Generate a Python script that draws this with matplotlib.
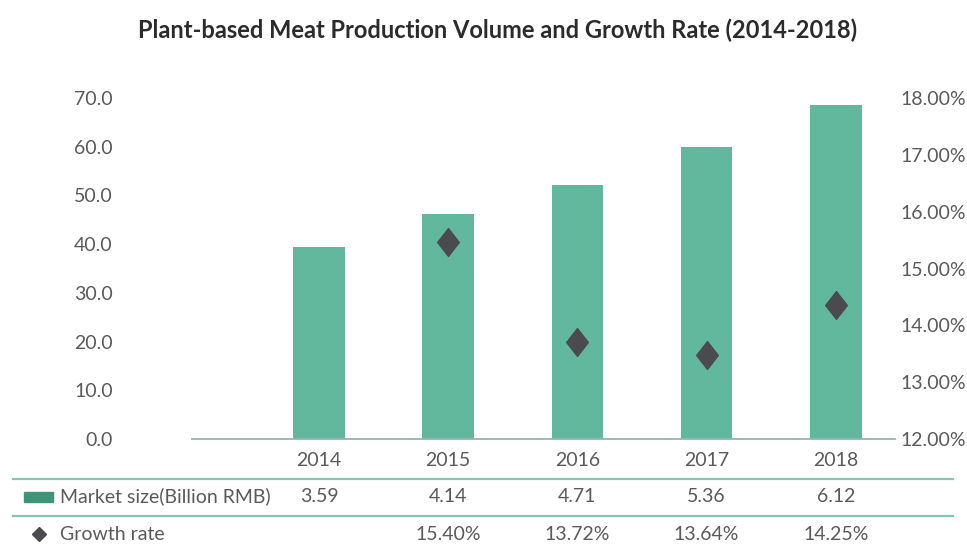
import numpy as np
import matplotlib.pyplot as plt
from matplotlib.lines import Line2D
from matplotlib.patches import Rectangle
from matplotlib.path import Path
import matplotlib.transforms as mtransforms

years = ['2014', '2015', '2016', '2017', '2018']
bar_values = [39.5, 46.2, 52.1, 59.9, 68.6]
growth_plot = [15.47, 13.71, 13.48, 14.36]  # diamond positions (%)
growth_years = ['2015', '2016', '2017', '2018']
market_size = ['3.59', '4.14', '4.71', '5.36', '6.12']
growth_text = ['', '15.40%', '13.72%', '13.64%', '14.25%']

BAR_COLOR = '#62b89c'
DIAMOND_COLOR = '#4b4a4e'
TEXT_COLOR = '#5a5a5a'
LINE_COLOR = '#86c4b1'

plt.rcParams['font.family'] = ['Lato', 'DejaVu Sans']

fig = plt.figure(figsize=(9.67, 5.47), dpi=100)
ax = fig.add_axes((0.1986, 0.1974, 0.9255 - 0.1986, 0.8208 - 0.1974))
ax2 = ax.twinx()

x = np.arange(len(years))
ax.bar(x, bar_values, width=0.40, color=BAR_COLOR, zorder=1)

diamond = Path([(0, 1), (0.78, 0), (0, -1), (-0.78, 0), (0, 1)],
               [Path.MOVETO, Path.LINETO, Path.LINETO, Path.LINETO, Path.CLOSEPOLY])
gx = [years.index(y) for y in growth_years]
ax2.plot(gx, growth_plot, linestyle='none', marker=diamond, markersize=20,
         color=DIAMOND_COLOR, zorder=3)

ax.set_xlim(-0.983, 4.458)
ax.set_ylim(0, 70)
ax.set_yticks(np.arange(0, 71, 10))
ax.set_yticklabels(['%.1f' % v for v in np.arange(0, 71, 10)])
ax2.set_ylim(12, 18)
ax2.set_yticks(np.arange(12, 19, 1))
ax2.set_yticklabels(['%.2f%%' % v for v in np.arange(12, 19, 1)])

ax.set_xticks(x)
ax.set_xticklabels(years)

for a in (ax, ax2):
    for s in a.spines.values():
        s.set_visible(False)
    a.tick_params(length=0, labelsize=14, labelcolor=TEXT_COLOR)
ax.spines['bottom'].set_visible(True)
ax.spines['bottom'].set_color('#8fb8ad')
ax.spines['bottom'].set_linewidth(1.3)
ax.tick_params(axis='y', pad=57)
ax.tick_params(axis='x', pad=9)
ax2.tick_params(axis='y', pad=4)

fig.text(0.515, 0.945, 'Plant-based Meat Production Volume and Growth Rate (2014-2018)',
         ha='center', va='center', fontsize=17, fontweight='bold', color='#2b2b2b')

# data table under the chart
trans = mtransforms.blended_transform_factory(ax.transData, fig.transFigure)
for yy in (1 - 479 / 547, 1 - 516 / 547):
    fig.add_artist(Line2D([13 / 967, 953 / 967], [yy, yy], color=LINE_COLOR, lw=1.6))

row1 = 1 - 496 / 547
row2 = 1 - 534 / 547
fig.add_artist(Rectangle((24 / 967, 1 - 502 / 547), 29 / 967, 10 / 547,
                         transform=fig.transFigure, color='#3f9477'))
fig.text(60 / 967, row1, 'Market size(Billion RMB)', ha='left', va='center',
         fontsize=14, color=TEXT_COLOR)
fig.add_artist(Line2D([39 / 967], [row2], marker='D', markersize=7,
                      color=DIAMOND_COLOR, transform=fig.transFigure))
fig.text(60 / 967, row2, 'Growth rate', ha='left', va='center',
         fontsize=14, color=TEXT_COLOR)
for i in range(len(years)):
    fig.text(x[i], row1, market_size[i], ha='center', va='center', fontsize=14,
             color=TEXT_COLOR, transform=trans)
    fig.text(x[i], row2, growth_text[i], ha='center', va='center', fontsize=14,
             color=TEXT_COLOR, transform=trans)

fig.savefig('out.png', dpi=100, facecolor='white')
